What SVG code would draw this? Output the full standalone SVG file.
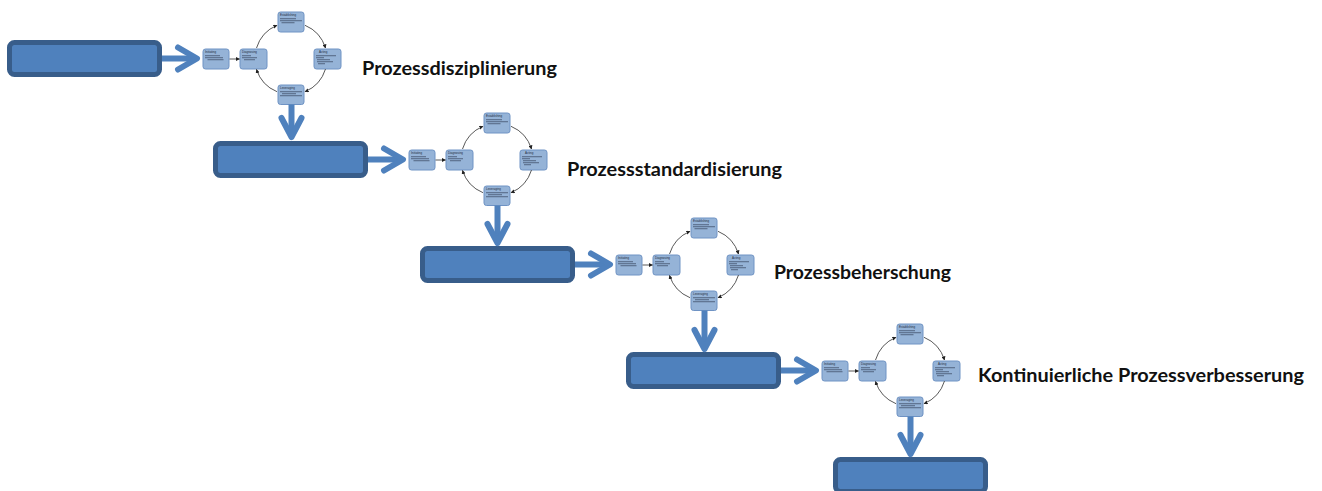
<svg xmlns="http://www.w3.org/2000/svg" width="1322" height="491" viewBox="0 0 1322 491">
<style>
.big{fill:#4F81BD;stroke:#385D8A;stroke-width:5}
.mini rect.b{fill:#95B3D7;stroke:#6F93C4;stroke-width:1}
.mini rect.l{fill:#3E4E66;opacity:0.85}
.mini text{font-family:"Liberation Sans",Arial,sans-serif;font-size:3px;fill:#1F2A3A}
.fat{fill:none;stroke:#4F81BD;stroke-width:6;stroke-linecap:round;stroke-linejoin:round}
.shaft{fill:none;stroke:#4F81BD;stroke-width:6;stroke-linecap:butt}
.thin{fill:none;stroke:#454545;stroke-width:0.9;marker-end:url(#ah)}
.lbl{font-family:Lato,"Liberation Sans",Arial,sans-serif;font-weight:bold;font-size:18.5px;fill:#111}
</style>
<defs>
<marker id="ah" viewBox="0 0 10 10" refX="9" refY="5" markerWidth="4.5" markerHeight="4.5" orient="auto">
<path d="M0,0 L10,5 L0,10 z" fill="#222"/>
</marker>
</defs>

<!-- Stage 1 -->
<g id="stage1" transform="translate(0,0)">
  <g id="s1-phase"><rect class="big" x="9.5" y="42.5" width="150" height="32" rx="5"/></g>
  <g id="s1-initiating" class="mini"><rect class="b" x="203" y="49" width="26" height="20" rx="2.5"/><text x="205" y="53.2">Initiating</text><rect class="l" x="205" y="55.3" width="15" height="0.9"/><rect class="l" x="205" y="57.3" width="18" height="0.9"/><rect class="l" x="207.5" y="59.3" width="16" height="0.9"/></g>
  <g id="s1-diagnosing" class="mini"><rect class="b" x="240" y="49" width="27" height="20" rx="2.5"/><text x="242" y="53.2">Diagnosing</text><rect class="l" x="242" y="55.3" width="9" height="0.9"/><rect class="l" x="242" y="57.3" width="15" height="0.9"/><rect class="l" x="244" y="59.3" width="11" height="0.9"/></g>
  <g id="s1-establishing" class="mini"><rect class="b" x="278" y="12" width="26" height="20" rx="2.5"/><text x="280" y="16.2">Establishing</text><rect class="l" x="280" y="18.3" width="16" height="0.9"/><rect class="l" x="280" y="20.3" width="22" height="0.9"/><rect class="l" x="281.5" y="22.3" width="13" height="0.9"/></g>
  <g id="s1-acting" class="mini"><rect class="b" x="314" y="49" width="27" height="20" rx="2.5"/><text x="319" y="53.2">Acting</text><rect class="l" x="316" y="55.3" width="20" height="0.9"/><rect class="l" x="316" y="57.3" width="8" height="0.9"/><rect class="l" x="317" y="59.3" width="13" height="0.9"/><rect class="l" x="317" y="61.3" width="16" height="0.9"/><rect class="l" x="318" y="63.3" width="7" height="0.9"/></g>
  <g id="s1-leveraging" class="mini"><rect class="b" x="278" y="85" width="26" height="19.5" rx="2.5"/><text x="280" y="89.2">Leveraging</text><rect class="l" x="280" y="91.3" width="22" height="0.9"/><rect class="l" x="282" y="93.3" width="14" height="0.9"/><rect class="l" x="280" y="95.3" width="22" height="0.9"/></g>
</g>

<!-- Stage 2 -->
<g id="stage2" transform="translate(206,101)">
  <g id="s2-phase"><rect class="big" x="9.5" y="42.5" width="150" height="32" rx="5"/></g>
  <g id="s2-initiating" class="mini"><rect class="b" x="203" y="49" width="26" height="20" rx="2.5"/><text x="205" y="53.2">Initiating</text><rect class="l" x="205" y="55.3" width="15" height="0.9"/><rect class="l" x="205" y="57.3" width="18" height="0.9"/><rect class="l" x="207.5" y="59.3" width="16" height="0.9"/></g>
  <g id="s2-diagnosing" class="mini"><rect class="b" x="240" y="49" width="27" height="20" rx="2.5"/><text x="242" y="53.2">Diagnosing</text><rect class="l" x="242" y="55.3" width="9" height="0.9"/><rect class="l" x="242" y="57.3" width="15" height="0.9"/><rect class="l" x="244" y="59.3" width="11" height="0.9"/></g>
  <g id="s2-establishing" class="mini"><rect class="b" x="278" y="12" width="26" height="20" rx="2.5"/><text x="280" y="16.2">Establishing</text><rect class="l" x="280" y="18.3" width="16" height="0.9"/><rect class="l" x="280" y="20.3" width="22" height="0.9"/><rect class="l" x="281.5" y="22.3" width="13" height="0.9"/></g>
  <g id="s2-acting" class="mini"><rect class="b" x="314" y="49" width="27" height="20" rx="2.5"/><text x="319" y="53.2">Acting</text><rect class="l" x="316" y="55.3" width="20" height="0.9"/><rect class="l" x="316" y="57.3" width="8" height="0.9"/><rect class="l" x="317" y="59.3" width="13" height="0.9"/><rect class="l" x="317" y="61.3" width="16" height="0.9"/><rect class="l" x="318" y="63.3" width="7" height="0.9"/></g>
  <g id="s2-leveraging" class="mini"><rect class="b" x="278" y="85" width="26" height="19.5" rx="2.5"/><text x="280" y="89.2">Leveraging</text><rect class="l" x="280" y="91.3" width="22" height="0.9"/><rect class="l" x="282" y="93.3" width="14" height="0.9"/><rect class="l" x="280" y="95.3" width="22" height="0.9"/></g>
</g>

<!-- Stage 3 -->
<g id="stage3" transform="translate(413,206)">
  <g id="s3-phase"><rect class="big" x="9.5" y="42.5" width="150" height="32" rx="5"/></g>
  <g id="s3-initiating" class="mini"><rect class="b" x="203" y="49" width="26" height="20" rx="2.5"/><text x="205" y="53.2">Initiating</text><rect class="l" x="205" y="55.3" width="15" height="0.9"/><rect class="l" x="205" y="57.3" width="18" height="0.9"/><rect class="l" x="207.5" y="59.3" width="16" height="0.9"/></g>
  <g id="s3-diagnosing" class="mini"><rect class="b" x="240" y="49" width="27" height="20" rx="2.5"/><text x="242" y="53.2">Diagnosing</text><rect class="l" x="242" y="55.3" width="9" height="0.9"/><rect class="l" x="242" y="57.3" width="15" height="0.9"/><rect class="l" x="244" y="59.3" width="11" height="0.9"/></g>
  <g id="s3-establishing" class="mini"><rect class="b" x="278" y="12" width="26" height="20" rx="2.5"/><text x="280" y="16.2">Establishing</text><rect class="l" x="280" y="18.3" width="16" height="0.9"/><rect class="l" x="280" y="20.3" width="22" height="0.9"/><rect class="l" x="281.5" y="22.3" width="13" height="0.9"/></g>
  <g id="s3-acting" class="mini"><rect class="b" x="314" y="49" width="27" height="20" rx="2.5"/><text x="319" y="53.2">Acting</text><rect class="l" x="316" y="55.3" width="20" height="0.9"/><rect class="l" x="316" y="57.3" width="8" height="0.9"/><rect class="l" x="317" y="59.3" width="13" height="0.9"/><rect class="l" x="317" y="61.3" width="16" height="0.9"/><rect class="l" x="318" y="63.3" width="7" height="0.9"/></g>
  <g id="s3-leveraging" class="mini"><rect class="b" x="278" y="85" width="26" height="19.5" rx="2.5"/><text x="280" y="89.2">Leveraging</text><rect class="l" x="280" y="91.3" width="22" height="0.9"/><rect class="l" x="282" y="93.3" width="14" height="0.9"/><rect class="l" x="280" y="95.3" width="22" height="0.9"/></g>
</g>

<!-- Stage 4 -->
<g id="stage4" transform="translate(619,312)">
  <g id="s4-phase"><rect class="big" x="9.5" y="42.5" width="150" height="32" rx="5"/></g>
  <g id="s4-initiating" class="mini"><rect class="b" x="203" y="49" width="26" height="20" rx="2.5"/><text x="205" y="53.2">Initiating</text><rect class="l" x="205" y="55.3" width="15" height="0.9"/><rect class="l" x="205" y="57.3" width="18" height="0.9"/><rect class="l" x="207.5" y="59.3" width="16" height="0.9"/></g>
  <g id="s4-diagnosing" class="mini"><rect class="b" x="240" y="49" width="27" height="20" rx="2.5"/><text x="242" y="53.2">Diagnosing</text><rect class="l" x="242" y="55.3" width="9" height="0.9"/><rect class="l" x="242" y="57.3" width="15" height="0.9"/><rect class="l" x="244" y="59.3" width="11" height="0.9"/></g>
  <g id="s4-establishing" class="mini"><rect class="b" x="278" y="12" width="26" height="20" rx="2.5"/><text x="280" y="16.2">Establishing</text><rect class="l" x="280" y="18.3" width="16" height="0.9"/><rect class="l" x="280" y="20.3" width="22" height="0.9"/><rect class="l" x="281.5" y="22.3" width="13" height="0.9"/></g>
  <g id="s4-acting" class="mini"><rect class="b" x="314" y="49" width="27" height="20" rx="2.5"/><text x="319" y="53.2">Acting</text><rect class="l" x="316" y="55.3" width="20" height="0.9"/><rect class="l" x="316" y="57.3" width="8" height="0.9"/><rect class="l" x="317" y="59.3" width="13" height="0.9"/><rect class="l" x="317" y="61.3" width="16" height="0.9"/><rect class="l" x="318" y="63.3" width="7" height="0.9"/></g>
  <g id="s4-leveraging" class="mini"><rect class="b" x="278" y="85" width="26" height="19.5" rx="2.5"/><text x="280" y="89.2">Leveraging</text><rect class="l" x="280" y="91.3" width="22" height="0.9"/><rect class="l" x="282" y="93.3" width="14" height="0.9"/><rect class="l" x="280" y="95.3" width="22" height="0.9"/></g>
</g>

<!-- Stage 5 -->
<g id="stage5" transform="translate(826,417)">
  <g id="s5-phase"><rect class="big" x="9.5" y="42.5" width="150" height="32" rx="5"/></g>
</g>

<!-- Connectors -->
<g id="connectors">
  <g transform="translate(0,0)">
    <path class="shaft" d="M162,58.5 H196"/><path class="fat" d="M178,47.5 L197,58.5 L178,69.5"/>
    <path class="thin" d="M229.5,59 H239.5"/>
    <path class="thin" d="M256.5,48 A36,36 0 0 1 277,25.3"/>
    <path class="thin" d="M305,25.3 A36,36 0 0 1 325.5,48"/>
    <path class="thin" d="M325.5,69 A36,36 0 0 1 305,91.7"/>
    <path class="thin" d="M277,91.7 A36,36 0 0 1 256.5,69.5"/>
  </g>
  <g transform="translate(206,101)">
    <path class="shaft" d="M162,58.5 H196"/><path class="fat" d="M178,47.5 L197,58.5 L178,69.5"/>
    <path class="thin" d="M229.5,59 H239.5"/>
    <path class="thin" d="M256.5,48 A36,36 0 0 1 277,25.3"/>
    <path class="thin" d="M305,25.3 A36,36 0 0 1 325.5,48"/>
    <path class="thin" d="M325.5,69 A36,36 0 0 1 305,91.7"/>
    <path class="thin" d="M277,91.7 A36,36 0 0 1 256.5,69.5"/>
  </g>
  <g transform="translate(413,206)">
    <path class="shaft" d="M162,58.5 H196"/><path class="fat" d="M178,47.5 L197,58.5 L178,69.5"/>
    <path class="thin" d="M229.5,59 H239.5"/>
    <path class="thin" d="M256.5,48 A36,36 0 0 1 277,25.3"/>
    <path class="thin" d="M305,25.3 A36,36 0 0 1 325.5,48"/>
    <path class="thin" d="M325.5,69 A36,36 0 0 1 305,91.7"/>
    <path class="thin" d="M277,91.7 A36,36 0 0 1 256.5,69.5"/>
  </g>
  <g transform="translate(619,312)">
    <path class="shaft" d="M162,58.5 H196"/><path class="fat" d="M178,47.5 L197,58.5 L178,69.5"/>
    <path class="thin" d="M229.5,59 H239.5"/>
    <path class="thin" d="M256.5,48 A36,36 0 0 1 277,25.3"/>
    <path class="thin" d="M305,25.3 A36,36 0 0 1 325.5,48"/>
    <path class="thin" d="M325.5,69 A36,36 0 0 1 305,91.7"/>
    <path class="thin" d="M277,91.7 A36,36 0 0 1 256.5,69.5"/>
  </g>
  <!-- down arrows -->
  <path class="shaft" d="M291.5,104.5 V136"/><path class="fat" d="M281.5,118 L291.5,137 L301.5,118"/>
  <path class="shaft" d="M497.5,205.5 V242"/><path class="fat" d="M487.5,224 L497.5,243 L507.5,224"/>
  <path class="shaft" d="M704.5,310.5 V348"/><path class="fat" d="M694.5,330 L704.5,349 L714.5,330"/>
  <path class="shaft" d="M910.5,416.5 V453"/><path class="fat" d="M900.5,435 L910.5,454 L920.5,435"/>
</g>

<!-- Labels -->
<g id="labels">
  <text class="lbl" x="362" y="75" textLength="195" lengthAdjust="spacingAndGlyphs">Prozessdisziplinierung</text>
  <text class="lbl" x="567" y="176" textLength="215" lengthAdjust="spacingAndGlyphs">Prozessstandardisierung</text>
  <text class="lbl" x="774" y="279" textLength="177" lengthAdjust="spacingAndGlyphs">Prozessbeherschung</text>
  <text class="lbl" x="978" y="382" textLength="326" lengthAdjust="spacingAndGlyphs">Kontinuierliche Prozessverbesserung</text>
</g>
</svg>
